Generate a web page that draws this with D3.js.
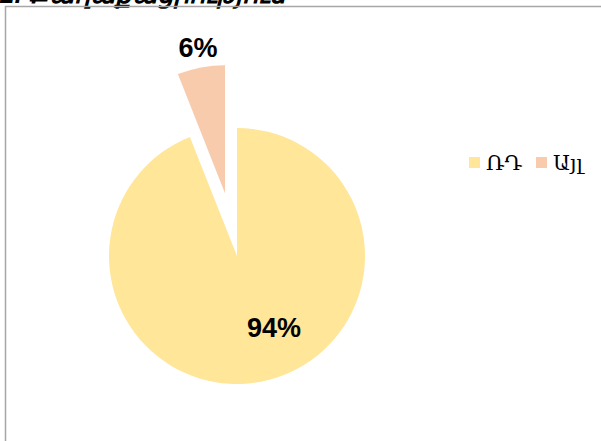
<!DOCTYPE html>
<html>
<head>
<meta charset="utf-8">
<script src="https://cdn.jsdelivr.net/npm/d3@7"></script>
<style>
  body { margin: 0; background: #fff; }
  svg { display: block; }
</style>
</head>
<body>
<div class="canvas"></div>
<script>
// data
const categories = ["ՌԴ", "Այլ"];
const values = [94, 6];
const labels = ["94%", "6%"];
const title = "2. Քաղաքացիություն";

// dimensions
const w = 601;
const h = 441;
const radius = 128;
const center = { x: 237, y: 256 };
const explode = [0, 64]; // pull-out distance per slice

const colors = d3.scaleOrdinal().domain(categories).range(["#FFE699", "#F8CBAD"]);

const svg = d3.select(".canvas").append("svg").attr("width", w).attr("height", h);

// title, cut off at the top edge as in the source
svg.append("text")
  .attr("x", 0)
  .attr("y", 3)
  .attr("font-family", "Liberation Sans, Arial, sans-serif")
  .attr("font-size", 26)
  .attr("font-weight", "bold")
  .attr("font-style", "italic")
  .attr("fill", "#000")
  .text(title);

// plot area border (left and top only visible)
svg.append("path")
  .attr("d", d3.line()([[5.5, h], [5.5, 6.5], [w, 6.5]]))
  .attr("fill", "none")
  .attr("stroke", "#a6a6a6")
  .attr("stroke-width", 1.5);

const pie = d3.pie().sort(null).value((d) => d.value);
const arcs = pie(categories.map((c, i) => ({ name: c, value: values[i], label: labels[i], off: explode[i] })));
const arc = d3.arc().innerRadius(0).outerRadius(radius);

const graph = svg.append("g").attr("transform", `translate(${center.x}, ${center.y})`);

const offset = (d) => {
  const mid = (d.startAngle + d.endAngle) / 2;
  return [Math.sin(mid) * d.data.off, -Math.cos(mid) * d.data.off];
};

graph.selectAll("path.slice")
  .data(arcs)
  .enter()
  .append("path")
  .attr("class", "slice")
  .attr("d", arc)
  .attr("fill", (d) => colors(d.data.name))
  .attr("transform", (d) => `translate(${offset(d)})`);

// data labels
const labelPos = [[37, 81], [-39, -199]];
graph.selectAll("text.label")
  .data(arcs)
  .enter()
  .append("text")
  .attr("class", "label")
  .attr("x", (d, i) => labelPos[i][0])
  .attr("y", (d, i) => labelPos[i][1])
  .attr("text-anchor", "middle")
  .attr("font-family", "Liberation Sans, Arial, sans-serif")
  .attr("font-size", 27)
  .attr("font-weight", "bold")
  .attr("fill", "#000")
  .text((d) => d.data.label);

// legend
const legend = svg.append("g").attr("transform", "translate(469, 157)");
const legendX = [0, 67];
const items = legend.selectAll("g")
  .data(categories)
  .enter()
  .append("g")
  .attr("transform", (d, i) => `translate(${legendX[i]}, 0)`);
items.append("rect")
  .attr("width", 11)
  .attr("height", 11)
  .attr("fill", (d) => colors(d));
items.append("text")
  .attr("x", 17)
  .attr("y", 12.5)
  .attr("font-family", "DejaVu Serif, serif")
  .attr("font-size", 21)
  .attr("fill", "#000")
  .text((d) => d);
</script>
</body>
</html>
